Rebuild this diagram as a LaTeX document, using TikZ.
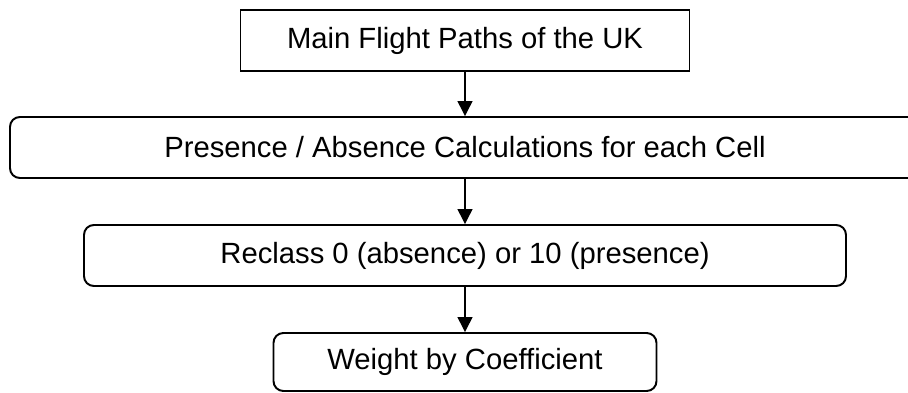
\documentclass[tikz,border=0pt]{standalone}
\usepackage{fontspec}
\setmainfont{Liberation Sans}
\usetikzlibrary{arrows.meta, positioning}

\begin{document}
\begin{tikzpicture}[
  stepbox/.style={draw=black, line width=1.4pt, fill=white, minimum height=1.525cm, inner sep=0pt, font=\fontsize{20.8pt}{24pt}\selectfont},
  roundbox/.style={stepbox, rounded corners=7pt},
  flow/.style={-{Triangle[length=0.37cm, width=0.37cm]}, line width=1pt}
]
  \useasboundingbox (-11.625, 0) rectangle (11.075, -9.8);
  \node[stepbox, minimum width=11.225cm] (paths) at (0, -1.0125) {Main Flight Paths of the UK};
  \node[roundbox, minimum width=22.75cm] (calc) at (0, -3.6875) {Presence / Absence Calculations for each Cell};
  \node[roundbox, minimum width=19.05cm] (reclass) at (0, -6.3875) {Reclass 0 (absence) or 10 (presence)};
  \node[roundbox, minimum width=9.575cm, minimum height=1.45cm] (weight) at (0, -9.05) {Weight by Coefficient};
  \draw[flow] (paths.south) -- (calc.north);
  \draw[flow] (calc.south) -- (reclass.north);
  \draw[flow] (reclass.south) -- (weight.north);
\end{tikzpicture}
\end{document}
